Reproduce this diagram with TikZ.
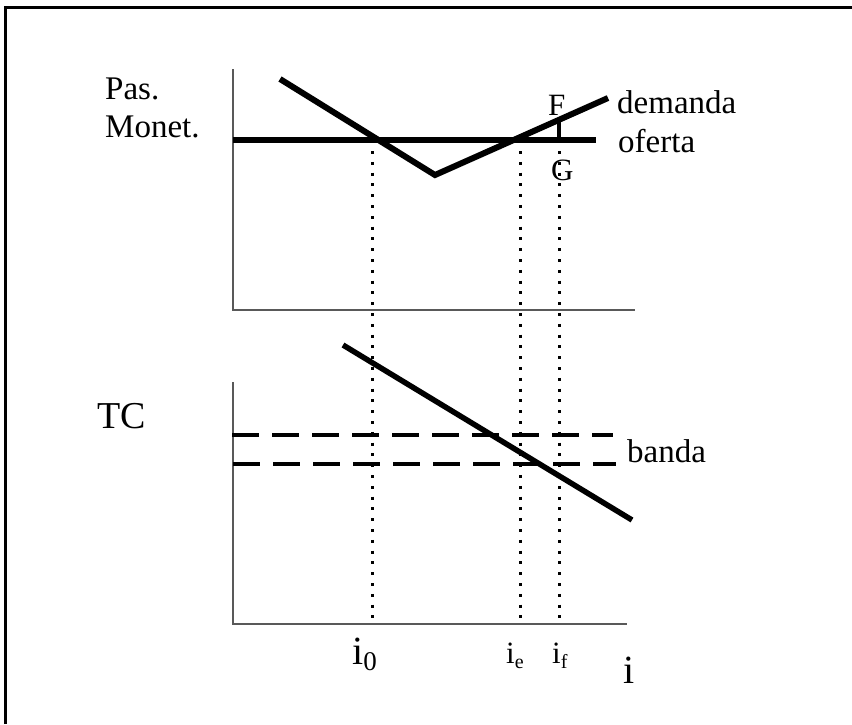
\documentclass[tikz,border=0pt]{standalone}
\usepackage{fontspec}
\setmainfont{Liberation Serif}
\begin{document}
\begin{tikzpicture}[x=1pt,y=-1pt,
  axisline/.style={line width=1.2pt,black!65},
  thickline/.style={line width=6pt,line cap=butt,line join=miter},
  guide/.style={line width=3pt,dash pattern=on 3pt off 7.8pt},
  bandline/.style={line width=3.5pt,dash pattern=on 27pt off 13pt},
  lbl/.style={inner sep=0pt,anchor=base west},
  txt/.style={lbl,font=\fontsize{33}{38}\selectfont}]
\useasboundingbox (0,0) rectangle (852,724);
% frame
\draw[line width=3pt] (5.5,724) -- (5.5,7.5) -- (852,7.5);
% top axes
\coordinate (t0) at (233,310);
\coordinate (ty) at (233,69);
\coordinate (tx) at (635,310);
\draw[axisline] (ty) -- (t0) -- (tx);
% bottom axes
\coordinate (b0) at (233,624);
\coordinate (by) at (233,382);
\coordinate (bx) at (627,624);
\draw[axisline] (by) -- (b0) -- (bx);
% guides
\foreach \n/\x in {g0/372,ge/520,gf/559}{
  \coordinate (\n top) at (\x,151);
  \coordinate (\n bot) at (\x,623);
  \draw[guide] (\n top) -- (\n bot);
}
% oferta
\coordinate (of1) at (233,140);
\coordinate (of2) at (596,140);
\draw[thickline] (of1) -- (of2);
% demanda
\coordinate (d1) at (280,79);
\coordinate (dv) at (435,175);
\coordinate (d2) at (608,98);
\draw[thickline] (d1) -- (dv) -- (d2);
% F-G
\coordinate (F) at (559,120);
\coordinate (G) at (559,140);
\draw[line width=4.5pt] (F) -- (G);
% TC line
\coordinate (tc1) at (343,345);
\coordinate (tc2) at (632,520);
\draw[line width=5.5pt] (tc1) -- (tc2);
% banda
\coordinate (ba1) at (232,435);
\coordinate (ba2) at (613,435);
\coordinate (bb1) at (233,464);
\coordinate (bb2) at (616,464);
\draw[bandline] (ba1) -- (ba2);
\draw[bandline] (bb1) -- (bb2);
% labels
\node[txt] (pas) at (105,99) {Pas.};
\node[txt] (mon) at (105,137) {Monet.};
\node[txt] (dem) at (617,113) {demanda};
\node[txt] (ofe) at (618,152) {oferta};
\node[lbl,font=\fontsize{31}{36}\selectfont] (lF) at (548,115) {F};
\node[lbl,font=\fontsize{31}{36}\selectfont] (lG) at (551,180) {G};
\node[lbl,font=\fontsize{38}{44}\selectfont] (tc) at (97,428) {TC};
\node[txt] (band) at (627,462) {banda};
\node[lbl] (i0) at (352,664) {\fontsize{40}{46}\selectfont i\fontsize{27}{30}\selectfont\raisebox{-6pt}{0}};
\node[lbl] (ie) at (506,663) {\fontsize{31}{36}\selectfont i\fontsize{20}{24}\selectfont\raisebox{-5pt}{e}};
\node[lbl] (if) at (552,663) {\fontsize{31}{36}\selectfont i\fontsize{20}{24}\selectfont\raisebox{-5pt}{f}};
\node[lbl,font=\fontsize{40}{46}\selectfont] (ii) at (623,683) {i};
\end{tikzpicture}
\end{document}
